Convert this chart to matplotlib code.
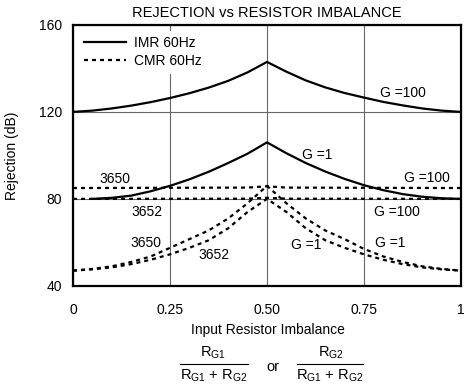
import matplotlib
matplotlib.use("Agg")
import matplotlib.pyplot as plt
from matplotlib.lines import Line2D

plt.rcParams['font.family'] = ['Liberation Sans', 'DejaVu Sans']
plt.rcParams['mathtext.fontset'] = 'custom'
plt.rcParams['mathtext.rm'] = 'Liberation Sans'
plt.rcParams['mathtext.it'] = 'Liberation Sans'

# Data
x_full = [0, 0.05, 0.1, 0.15, 0.2, 0.25, 0.3, 0.35, 0.4, 0.45, 0.5,
          0.55, 0.6, 0.65, 0.7, 0.75, 0.8, 0.85, 0.9, 0.95, 1.0]
imr_g100 = [120, 120.6, 121.6, 122.9, 124.5, 126.4, 128.6, 131.2, 134.3, 138.2, 143,
            138.5, 134.5, 131.3, 128.7, 126.6, 124.6, 123, 121.6, 120.6, 120]
x_imr_g1 = [0.05, 0.1, 0.15, 0.2, 0.25, 0.3, 0.35, 0.4, 0.45, 0.5,
            0.55, 0.6, 0.65, 0.7, 0.75, 0.8, 0.85, 0.9, 0.95, 1.0]
imr_g1 = [80, 80.5, 81.5, 83.5, 86, 89, 92.5, 96.5, 100.8, 106,
          101, 96.5, 92.6, 89.2, 86.3, 84, 82.2, 81, 80.3, 80]
x_cmr_g100 = [0, 0.45, 0.5, 0.55, 1.0]
cmr_3650_g100 = [85, 85.2, 85.8, 85.2, 85]
cmr_3652_g100 = [80, 80.1, 80.5, 80.1, 80]
cmr_3650_g1 = [47, 47.8, 49, 51, 53.5, 57.5, 61.5, 65.5, 71, 78, 86,
               78, 71, 65.5, 61.5, 57, 53.5, 51, 49, 47.8, 47]
cmr_3652_g1 = [47, 47.6, 48.5, 50, 52, 54.5, 57.5, 61, 66.5, 74, 80,
               74, 66.5, 61, 57.5, 54.5, 52, 50, 48.5, 47.6, 47]

xticks = [0, 0.25, 0.5, 0.75, 1.0]
xticklabels = ['0', '0.25', '0.50', '0.75', '1']
yticks = [40, 80, 120, 160]

fig = plt.figure(figsize=(4.68, 3.90), dpi=100)
ax = fig.add_axes([0.156, 0.267, 0.829, 0.669])

lw = 1.6
dash = (1.8, 1.8)
ax.plot(x_full, imr_g100, color='black', lw=lw, label='IMR 60Hz', zorder=3)
ax.plot(x_imr_g1, imr_g1, color='black', lw=lw, zorder=3)
ax.plot(x_cmr_g100, cmr_3650_g100, color='black', lw=lw, dashes=dash, label='CMR 60Hz', zorder=3)
ax.plot(x_cmr_g100, cmr_3652_g100, color='black', lw=lw, dashes=dash, zorder=3)
ax.plot(x_full, cmr_3650_g1, color='black', lw=lw, dashes=dash, zorder=3)
ax.plot(x_full, cmr_3652_g1, color='black', lw=lw, dashes=dash, zorder=3)

ax.set_xlim(0, 1)
ax.set_ylim(40, 160)
ax.set_xticks(xticks)
ax.set_xticklabels(xticklabels)
ax.set_yticks(yticks)
ax.tick_params(length=0, labelsize=10)
ax.tick_params(axis='x', pad=12)
ax.tick_params(axis='y', pad=8)
ax.grid(True, color='#666666', lw=0.8)
ax.set_axisbelow(True)
for s in ax.spines.values():
    s.set_linewidth(1.6)

ax.set_ylabel('Rejection (dB)', fontsize=10, labelpad=14)
ax.set_title('REJECTION vs RESISTOR IMBALANCE', fontsize=10.5, pad=6)

leg = ax.legend(loc='upper left', frameon=True, fontsize=10, handlelength=3.0,
                borderaxespad=0.4, labelspacing=0.3, handletextpad=0.6)
leg.get_frame().set_edgecolor('none')
leg.get_frame().set_facecolor('white')
leg.get_frame().set_alpha(1)

fs = 10
ann = [
    ('G =100', 0.85, 128.7),
    ('G =1', 0.63, 100.2),
    ('3650', 0.108, 89.2),
    ('G =100', 0.913, 89.6),
    ('3652', 0.19, 74.2),
    ('G =100', 0.835, 74.2),
    ('3650', 0.188, 59.6),
    ('3652', 0.364, 54.0),
    ('G =1', 0.60, 58.8),
    ('G =1', 0.817, 59.6),
]
for t, xx, yy in ann:
    ax.text(xx, yy, t, fontsize=fs, ha='center', va='center', zorder=4)

W, H = 468.0, 390.0
def fx(px):
    return px / W
def fy(py):
    return 1 - py / H

fig.text(fx(268), fy(330), 'Input Resistor Imbalance', fontsize=10, ha='center', va='center')

num1 = r'R$_{\mathrm{G1}}$'
num2 = r'R$_{\mathrm{G2}}$'
den = r'R$_{\mathrm{G1}}$ + R$_{\mathrm{G2}}$'
fig.text(fx(213), fy(353), num1, fontsize=10.5, ha='center', va='center')
fig.text(fx(214), fy(376), den, fontsize=10.5, ha='center', va='center')
fig.text(fx(331), fy(353), num2, fontsize=10.5, ha='center', va='center')
fig.text(fx(330), fy(376), den, fontsize=10.5, ha='center', va='center')
fig.text(fx(273), fy(367), 'or', fontsize=10.5, ha='center', va='center')
fig.add_artist(Line2D([fx(180), fx(248)], [fy(364), fy(364)], color='black', lw=0.8))
fig.add_artist(Line2D([fx(297), fx(363)], [fy(364), fy(364)], color='black', lw=0.8))

fig.savefig('out.png', dpi=100)
